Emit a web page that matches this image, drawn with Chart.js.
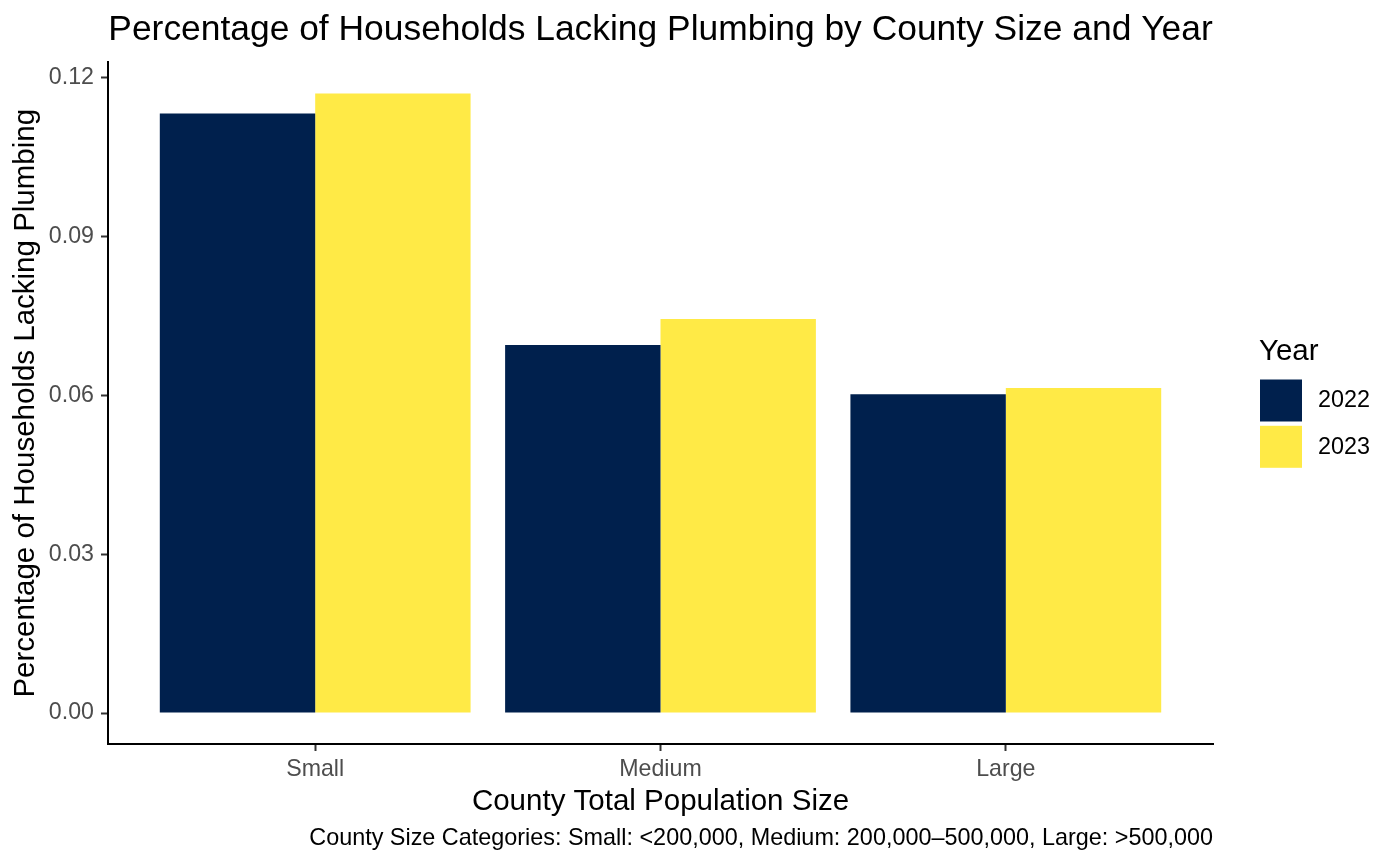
<!DOCTYPE html>
<html>
<head>
<meta charset="utf-8">
<script src="https://cdn.jsdelivr.net/npm/chart.js@4"></script>
<style>
  html, body { margin: 0; padding: 0; background: #ffffff; }
  canvas { display: block; }
</style>
</head>
<body>
<canvas id="c" width="1400" height="865"></canvas>
<script>
const categories = ['Small', 'Medium', 'Large'];
const categoryPositions = [1, 2, 3];
const years = ['2022', '2023'];
const values2022 = [0.1132, 0.0695, 0.0602];
const values2023 = [0.1170, 0.0744, 0.0614];
const yTicks = [0.00, 0.03, 0.06, 0.09, 0.12];
const seriesColors = ['#00204D', '#FFEA46'];

const FONT = "'Liberation Sans', Arial, Helvetica, sans-serif";

function toPoints(vals) {
  return vals.map((v, i) => ({ x: categoryPositions[i], y: v }));
}

const legendPlugin = {
  id: 'sideLegend',
  afterDraw(chart) {
    const ctx = chart.ctx;
    ctx.save();
    ctx.fillStyle = '#000000';
    ctx.textAlign = 'left';
    ctx.textBaseline = 'middle';
    ctx.font = '29.5px ' + FONT;
    ctx.fillText('Year', 1259, 352);
    chart.data.datasets.forEach((ds, i) => {
      const top = 379.5 + i * 46.3;
      ctx.fillStyle = ds.backgroundColor;
      ctx.fillRect(1260, top, 42, 42);
      ctx.fillStyle = '#000000';
      ctx.font = '23.4px ' + FONT;
      ctx.fillText(ds.label, 1318, top + 21.5);
    });
    ctx.restore();
  }
};

new Chart(document.getElementById('c'), {
  type: 'bar',
  data: {
    datasets: [
      { label: years[0], data: toPoints(values2022), backgroundColor: seriesColors[0], borderWidth: 0 },
      { label: years[1], data: toPoints(values2023), backgroundColor: seriesColors[1], borderWidth: 0 }
    ]
  },
  options: {
    responsive: false,
    devicePixelRatio: 1,
    animation: false,
    layout: { padding: { left: 0, top: 0, right: 187, bottom: 0 } },
    datasets: { bar: { categoryPercentage: 0.9, barPercentage: 1.0 } },
    plugins: {
      legend: { display: false },
      tooltip: { enabled: false },
      title: {
        display: true,
        text: 'Percentage of Households Lacking Plumbing by County Size and Year',
        fullSize: false,
        position: 'top',
        align: 'center',
        color: '#000000',
        font: { family: FONT, size: 35.4, weight: 'normal', lineHeight: 1.2 },
        padding: { top: 8.5, bottom: 11.5 }
      },
      subtitle: {
        display: true,
        text: 'County Size Categories: Small: <200,000, Medium: 200,000\u2013500,000, Large: >500,000',
        fullSize: false,
        position: 'bottom',
        align: 'end',
        color: '#000000',
        font: { family: FONT, size: 23.4, weight: 'normal', lineHeight: 1.2 },
        padding: { top: 0, bottom: 12 }
      }
    },
    scales: {
      x: {
        type: 'linear',
        position: 'bottom',
        min: 0.4,
        max: 3.6,
        offset: false,
        afterBuildTicks(scale) { scale.ticks = categoryPositions.map(v => ({ value: v })); },
        afterFit(scale) { scale.height = 80.9; },
        ticks: {
          color: '#4D4D4D',
          font: { family: FONT, size: 23.2 },
          padding: 5,
          maxRotation: 0,
          autoSkip: false,
          callback(value) { return categories[categoryPositions.indexOf(value)]; }
        },
        grid: { offset: false, drawOnChartArea: false, drawTicks: true, tickLength: 7, tickWidth: 2, tickColor: '#333333' },
        border: { display: true, color: '#000000', width: 2 },
        title: {
          display: true,
          text: 'County Total Population Size',
          color: '#000000',
          font: { family: FONT, size: 29.5, lineHeight: 1.2 },
          padding: { top: 0, bottom: 5 }
        }
      },
      y: {
        type: 'linear',
        min: -0.00585,
        max: 0.12285,
        afterBuildTicks(scale) { scale.ticks = yTicks.map(v => ({ value: v })); },
        afterFit(scale) { scale.width = 108; },
        ticks: {
          color: '#4D4D4D',
          font: { family: FONT, size: 23.2 },
          padding: 7,
          autoSkip: false,
          callback(value) { return Number(value).toFixed(2); }
        },
        grid: { drawOnChartArea: false, drawTicks: true, tickLength: 7, tickWidth: 2, tickColor: '#333333' },
        border: { display: true, color: '#000000', width: 2 },
        title: {
          display: true,
          text: 'Percentage of Households Lacking Plumbing',
          color: '#000000',
          font: { family: FONT, size: 29.5, lineHeight: 1.2 },
          padding: { top: 8.3, bottom: 0 }
        }
      }
    }
  },
  plugins: [legendPlugin]
});
</script>
</body>
</html>
